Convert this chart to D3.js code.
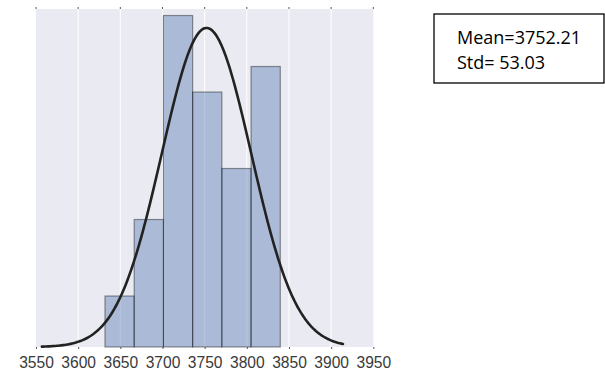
<!DOCTYPE html>
<html>
<head>
<meta charset="utf-8">
<script src="https://cdn.jsdelivr.net/npm/d3@7"></script>
<style>
  html, body { margin: 0; padding: 0; background: #fff; }
  svg { display: block; }
</style>
</head>
<body>
<svg id="chart" width="605" height="371"></svg>
<script>
// Histogram bins (edges) and counts, with the fitted normal curve
const binEdges = [3631.8, 3666.45, 3701.1, 3735.75, 3770.4, 3805.05, 3839.7];
const binCounts = [2, 5, 13, 10, 7, 11];
const mean = 3752.21;
const std = 53.03;
const curveRange = [3557, 3914];
const xTicks = [3550, 3600, 3650, 3700, 3750, 3800, 3850, 3900, 3950];
const statLines = ["Mean=3752.21", "Std= 53.03"];

const svg = d3.select("#chart");
const plot = { left: 36, right: 373.3, top: 9, bottom: 347 };

const x = d3.scaleLinear().domain([3550, 3950]).range([plot.left, plot.right]);
const total = d3.sum(binCounts);
const density = binCounts.map((c, i) => c / (total * (binEdges[i + 1] - binEdges[i])));
const y = d3.scaleLinear().domain([0, 0.00797]).range([plot.bottom, plot.top]);

// Plot background
svg.append("rect")
  .attr("x", plot.left).attr("y", plot.top)
  .attr("width", plot.right - plot.left).attr("height", plot.bottom - plot.top)
  .attr("fill", "#EAEAF2");

// Vertical grid lines
svg.append("g").selectAll("line").data(xTicks.slice(1, -1)).join("line")
  .attr("x1", d => x(d)).attr("x2", d => x(d))
  .attr("y1", plot.top).attr("y2", plot.bottom)
  .attr("stroke", "#fff").attr("stroke-width", 1);

// Histogram bars
svg.append("g").selectAll("rect").data(density).join("rect")
  .attr("x", (d, i) => x(binEdges[i]))
  .attr("y", d => y(d))
  .attr("width", (d, i) => x(binEdges[i + 1]) - x(binEdges[i]))
  .attr("height", d => y(0) - y(d))
  .attr("fill", "#4C72B0").attr("fill-opacity", 0.4)
  .attr("stroke", "#000").attr("stroke-opacity", 0.4).attr("stroke-width", 1.2);

// Normal density curve
const pdf = v => Math.exp(-0.5 * ((v - mean) / std) ** 2) / (std * Math.sqrt(2 * Math.PI));
const pts = d3.range(0, 201).map(i => {
  const v = curveRange[0] + (curveRange[1] - curveRange[0]) * i / 200;
  return [v, pdf(v)];
});
svg.append("path")
  .attr("d", d3.line().x(d => x(d[0])).y(d => y(d[1]))(pts))
  .attr("fill", "none").attr("stroke", "#222").attr("stroke-width", 2.6)
  .attr("stroke-linecap", "round");

// Bottom axis with tick labels
const axis = svg.append("g")
  .attr("transform", `translate(0,${plot.bottom})`)
  .call(d3.axisBottom(x).tickValues(xTicks).tickSize(2).tickPadding(8).tickFormat(d3.format("d")));
axis.select(".domain").remove();
axis.selectAll("line").attr("stroke", "#555");
axis.selectAll("text")
  .style("font-family", "'Liberation Sans', Arial, sans-serif")
  .style("font-size", "15.6px")
  .attr("fill", "#3a3a3a");

// Small tick marks along the top edge
svg.append("g").selectAll("line").data(xTicks).join("line")
  .attr("x1", d => x(d)).attr("x2", d => x(d))
  .attr("y1", plot.top - 2).attr("y2", plot.top)
  .attr("stroke", "#555");

// Statistics box
svg.append("rect")
  .attr("x", 434).attr("y", 14).attr("width", 170).attr("height", 69)
  .attr("fill", "#fff").attr("stroke", "#000").attr("stroke-width", 1.3);
svg.append("g").selectAll("text").data(statLines).join("text")
  .attr("x", 457).attr("y", (d, i) => 44.3 + i * 24.7)
  .style("font-family", "'Open Sans', 'Liberation Sans', sans-serif")
  .style("font-size", "18px").attr("fill", "#000")
  .text(d => d);
</script>
</body>
</html>
